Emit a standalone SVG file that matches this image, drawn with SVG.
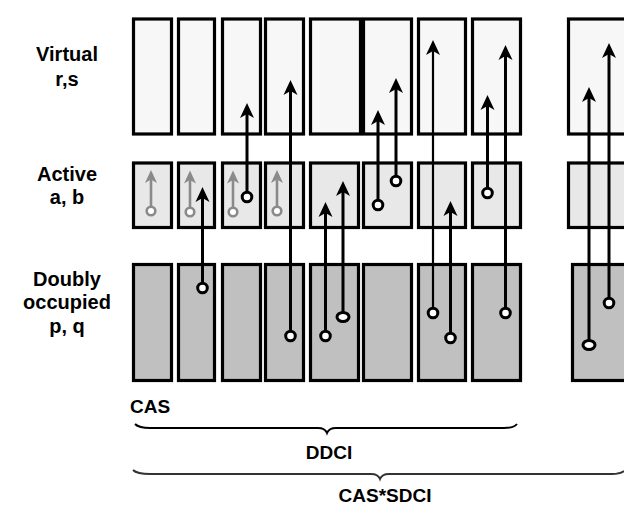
<svg xmlns="http://www.w3.org/2000/svg" width="624" height="508" viewBox="0 0 624 508">
<style>
.v{fill:#f7f7f7;stroke:#000;stroke-width:3.2}
.a{fill:#e8e8e8;stroke:#000;stroke-width:3.2}
.d{fill:#c0c0c0;stroke:#000;stroke-width:3.2}
.lbl{font-family:"Liberation Sans",Arial,sans-serif;font-weight:bold;font-size:20px;fill:#000;text-anchor:middle}
.bl{stroke:#000;stroke-width:3;fill:none;marker-end:url(#ah)}
.gl{stroke:#8a8a8a;stroke-width:2.6;fill:none;marker-end:url(#gh)}
.bc{fill:#fff;stroke:#000;stroke-width:3}
.gc{fill:#fff;stroke:#8a8a8a;stroke-width:2.6}
.brace{fill:none;stroke:#000;stroke-width:2}
</style>
<defs>
<marker id="ah" markerUnits="userSpaceOnUse" orient="auto" refX="4" refY="0" markerWidth="16" markerHeight="16" overflow="visible">
<path d="M0,-7 L15,0 L0,7 L4,0 Z" fill="#000"/>
</marker>
<marker id="gh" markerUnits="userSpaceOnUse" orient="auto" refX="3.5" refY="0" markerWidth="14" markerHeight="14" overflow="visible">
<path d="M0,-6 L13,0 L0,6 L3.5,0 Z" fill="#8a8a8a"/>
</marker>
</defs>
<g id="labels">
<text class="lbl" x="67" y="61">Virtual</text>
<text class="lbl" x="67" y="86">r,s</text>
<text class="lbl" x="67" y="181">Active</text>
<text class="lbl" x="67" y="204">a, b</text>
<text class="lbl" x="67" y="286">Doubly</text>
<text class="lbl" x="67" y="309">occupied</text>
<text class="lbl" x="67" y="333">p, q</text>
</g>
<g id="col1"><rect class="v" x="133.5" y="19" width="38" height="115"/><rect class="a" x="133.5" y="163" width="38" height="64.5"/><rect class="d" x="133.5" y="264.5" width="38" height="116"/></g>
<g id="col2"><rect class="v" x="178.5" y="19" width="36" height="115"/><rect class="a" x="178.5" y="163" width="36" height="64.5"/><rect class="d" x="178.5" y="264.5" width="36" height="116"/></g>
<g id="col3"><rect class="v" x="222.5" y="19" width="38" height="115"/><rect class="a" x="222.5" y="163" width="38" height="64.5"/><rect class="d" x="222.5" y="264.5" width="38" height="116"/></g>
<g id="col4"><rect class="v" x="265.5" y="19" width="38" height="115"/><rect class="a" x="265.5" y="163" width="38" height="64.5"/><rect class="d" x="265.5" y="264.5" width="38" height="116"/></g>
<g id="col5"><rect class="v" x="310.5" y="19" width="50" height="115"/><rect class="a" x="310.5" y="163" width="48" height="64.5"/><rect class="d" x="310.5" y="264.5" width="48" height="116"/></g>
<g id="col6"><rect class="v" x="363.5" y="19" width="48" height="115"/><rect class="a" x="363.5" y="163" width="48" height="64.5"/><rect class="d" x="363.5" y="264.5" width="48" height="116"/></g>
<g id="col7"><rect class="v" x="418.5" y="19" width="47" height="115"/><rect class="a" x="418.5" y="163" width="47" height="64.5"/><rect class="d" x="418.5" y="264.5" width="47" height="116"/></g>
<g id="col8"><rect class="v" x="472.5" y="19" width="48" height="115"/><rect class="a" x="472.5" y="163" width="48" height="64.5"/><rect class="d" x="472.5" y="264.5" width="48" height="116"/></g>
<g id="col9"><rect class="v" x="568.5" y="19" width="64" height="115"/><rect class="a" x="568.5" y="163" width="64" height="64.5"/><rect class="d" x="572.5" y="264.5" width="60" height="116"/></g>
<g id="connectors">
<line class="gl" x1="151" y1="207" x2="151" y2="179.5"/><circle class="gc" cx="151" cy="211" r="4.3"/>
<line class="gl" x1="190" y1="208" x2="190" y2="180"/><circle class="gc" cx="190" cy="212" r="4.3"/>
<line class="gl" x1="233" y1="208" x2="233" y2="180"/><circle class="gc" cx="233" cy="212" r="4.3"/>
<line class="gl" x1="277" y1="207" x2="277" y2="179.5"/><circle class="gc" cx="277" cy="211" r="4.3"/>
<line class="bl" x1="202.5" y1="288" x2="202.5" y2="198"/><circle class="bc" cx="202.5" cy="288" r="4.8"/>
<line class="bl" x1="247" y1="197" x2="247" y2="114"/><circle class="bc" cx="247" cy="197" r="4.8"/>
<line class="bl" x1="290.5" y1="336" x2="290.5" y2="91"/><circle class="bc" cx="290.5" cy="336" r="4.8"/>
<line class="bl" x1="325.5" y1="336" x2="325.5" y2="213"/><circle class="bc" cx="325.5" cy="336" r="4.8"/>
<line class="bl" x1="343" y1="317" x2="343" y2="192"/><ellipse class="bc" cx="343" cy="317" rx="6" ry="4.5"/>
<line class="bl" x1="378" y1="205" x2="378" y2="121"/><circle class="bc" cx="378" cy="205" r="4.8"/>
<line class="bl" x1="396" y1="181" x2="396" y2="89"/><circle class="bc" cx="396" cy="181" r="4.8"/>
<line class="bl" x1="433" y1="313" x2="433" y2="51" style="stroke-width:2.2"/><circle class="bc" cx="433" cy="313" r="4.8"/>
<line class="bl" x1="450.5" y1="338" x2="450.5" y2="212"/><circle class="bc" cx="450.5" cy="338" r="4.8"/>
<line class="bl" x1="487.5" y1="193" x2="487.5" y2="106"/><circle class="bc" cx="487.5" cy="193" r="4.8"/>
<line class="bl" x1="505.5" y1="313" x2="505.5" y2="56"/><circle class="bc" cx="505.5" cy="313" r="4.8"/>
<line class="bl" x1="589" y1="345" x2="589" y2="98"/><ellipse class="bc" cx="589" cy="345" rx="6" ry="4.5"/>
<line class="bl" x1="609" y1="303" x2="609" y2="54"/><circle class="bc" cx="609" cy="303" r="4.8"/>
</g>
<g id="bottom">
<text class="lbl" x="150" y="413" style="font-size:19px">CAS</text>
<path class="brace" d="M135,424 Q139,428 150,428 L318,428 Q325,428 327,433 Q329,428 336,428 L504,428 Q514,428 517,424"/>
<text class="lbl" x="329" y="459" style="font-size:19px">DDCI</text>
<path class="brace" d="M133,470 Q137,474 150,474 L371,474 Q378,474 380,479 Q382,474 389,474 L612,474 Q620,474 624,471" style="stroke:#333"/>
<text class="lbl" x="385" y="502" style="font-size:19px">CAS*SDCI</text>
</g>
</svg>
